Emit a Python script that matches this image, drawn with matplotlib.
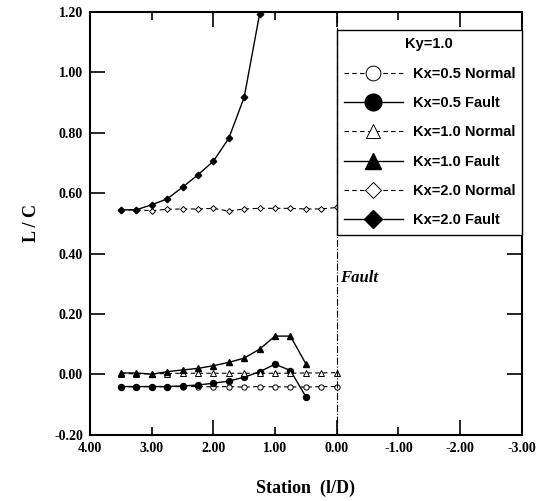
import matplotlib
matplotlib.use("Agg")
import matplotlib.pyplot as plt
from matplotlib.ticker import FixedLocator, FormatStrFormatter

# stations (l/D) and L/C values
station = [3.5, 3.25, 3.0, 2.75, 2.5, 2.25, 2.0, 1.75, 1.5, 1.25, 1.0, 0.75, 0.5, 0.25, 0.0]
kx05_normal = [-0.041, -0.041, -0.040, -0.041, -0.040, -0.040, -0.041, -0.040,
               -0.042, -0.040, -0.041, -0.041, -0.042, -0.040, -0.040]
kx05_fault = [-0.040, -0.040, -0.040, -0.040, -0.038, -0.035, -0.029, -0.022,
              -0.009, 0.009, 0.034, 0.013, -0.074]
kx10_normal = [0.003, 0.002, 0.002, 0.003, 0.004, 0.004, 0.004, 0.004,
               0.004, 0.004, 0.004, 0.004, 0.005, 0.005, 0.006]
kx10_fault = [0.005, 0.005, 0.001, 0.009, 0.015, 0.020, 0.029, 0.040,
              0.054, 0.084, 0.127, 0.127, 0.035]
kx20_normal = [0.545, 0.545, 0.542, 0.547, 0.548, 0.548, 0.550, 0.541,
               0.548, 0.550, 0.550, 0.550, 0.548, 0.548, 0.553]
kx20_fault = [0.545, 0.545, 0.562, 0.581, 0.620, 0.661, 0.706, 0.782, 0.918, 1.194]

SERIF = "Liberation Serif"
SANS = "Liberation Sans"

fig = plt.figure(figsize=(5.39, 5.01), dpi=100)
ax = fig.add_axes([0.167, 0.132, 0.801, 0.844])

ms = 3.8
dash = dict(ls=(0, (4, 3)), lw=0.8, color="black")
solid = dict(ls="-", lw=1.0, color="black")

ax.plot(station, kx05_normal, marker="o", mfc="white", mec="black", mew=0.7, ms=ms,
        label="Kx=0.5 Normal", **dash)
ax.plot(station[:len(kx05_fault)], kx05_fault, marker="o", mfc="black", mec="black", ms=ms + 0.5,
        label="Kx=0.5 Fault", **solid)
ax.plot(station, kx10_normal, marker="^", mfc="white", mec="black", mew=0.7, ms=ms,
        label="Kx=1.0 Normal", **dash)
ax.plot(station[:len(kx10_fault)], kx10_fault, marker="^", mfc="black", mec="black", ms=ms + 0.5,
        label="Kx=1.0 Fault", **solid)
ax.plot(station, kx20_normal, marker="D", mfc="white", mec="black", mew=0.7, ms=ms - 0.8,
        label="Kx=2.0 Normal", **dash)
ax.plot(station[:len(kx20_fault)], kx20_fault, marker="D", mfc="black", mec="black", ms=ms - 0.5,
        label="Kx=2.0 Fault", **solid)

# fault location
ax.axvline(0.0, color="black", lw=0.8, ls="-.", zorder=6)
ax.text(-0.05, 0.32, "Fault", fontfamily=SERIF, fontstyle="italic", fontweight="bold",
        fontsize=12, ha="left", va="center")

ax.set_xlim(4.0, -3.0)
ax.set_ylim(-0.2, 1.2)

ax.xaxis.set_major_locator(FixedLocator([4, 2, 0, -2]))
ax.xaxis.set_minor_locator(FixedLocator([3, 1, -1, -3]))
ax.xaxis.set_major_formatter(FormatStrFormatter("%.2f"))
ax.xaxis.set_minor_formatter(FormatStrFormatter("%.2f"))
ax.yaxis.set_major_locator(FixedLocator([-0.2, 0.0, 0.2, 0.4, 0.6, 0.8, 1.0, 1.2]))
ax.yaxis.set_major_formatter(FormatStrFormatter("%.2f"))

ax.tick_params(axis="x", which="major", direction="in", length=11, width=1.2, top=True, pad=5)
ax.tick_params(axis="x", which="minor", direction="in", length=6, width=1.2, top=True, pad=5)
ax.tick_params(axis="y", which="major", direction="in", length=11, width=1.2, right=True, pad=5)
for lab in ax.get_xticklabels(which="both") + ax.get_yticklabels():
    lab.set_fontfamily(SERIF)
    lab.set_fontweight("bold")
    lab.set_fontsize(10)
for sp in ax.spines.values():
    sp.set_linewidth(1.5)

ax.set_xlabel("Station  (l/D)", fontfamily=SERIF, fontweight="bold", fontsize=13, labelpad=18)
ax.set_ylabel("L / C", fontfamily=SERIF, fontweight="bold", fontsize=13, labelpad=10)

leg = ax.legend(loc="upper left", bbox_to_anchor=(0.572, 0.466, 0.428, 0.491), mode="expand",
                borderaxespad=0, borderpad=0.5, markerscale=2.8, handlelength=4.0,
                handletextpad=0.7, labelspacing=1.05, fancybox=False, framealpha=1,
                edgecolor="black", prop=dict(family=SANS, weight="bold", size=10.5),
                title="Ky=1.0", title_fontproperties=dict(family=SANS, weight="bold", size=10.5))
leg.get_frame().set_linewidth(1.0)

fig.savefig("out.png", dpi=100)
